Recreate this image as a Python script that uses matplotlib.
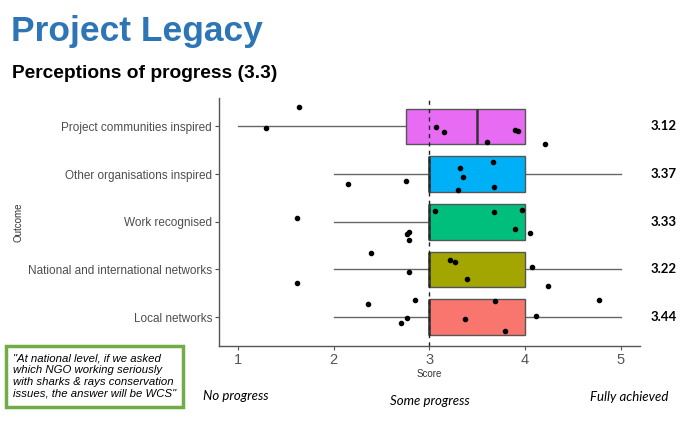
import matplotlib.pyplot as plt
import matplotlib.patches as mpatches

plt.rcParams['font.family'] = ['Liberation Sans', 'DejaVu Sans']

# outcomes, bottom to top
outcomes = ["Local networks", "National and international networks", "Work recognised",
            "Other organisations inspired", "Project communities inspired"]
colors = ["#F8766D", "#A3A500", "#00BF7D", "#00B0F6", "#E76BF3"]
means = ["3.44", "3.22", "3.33", "3.37", "3.12"]

# box stats: whisker low, q1, median, q3, whisker high
whislo = [2, 2, 2, 2, 1]
q1 = [3, 3, 3, 3, 2.75]
med = [3, 3, 3, 3, 3.5]
q3 = [4, 4, 4, 4, 4]
whishi = [5, 5, 4, 5, 4]

# jittered responses (score, vertical position)
pts_x = [2.36, 2.85, 3.69, 4.77, 4.11, 2.77, 3.37, 2.70, 3.79,
         2.39, 3.21, 3.27, 2.79, 4.07, 3.39, 1.62, 4.24,
         1.62, 3.06, 3.68, 3.97, 3.89, 4.05, 2.79, 2.77, 2.79,
         3.66, 3.32, 3.35, 2.15, 2.75, 3.68, 3.30,
         1.64, 1.29, 3.07, 3.15, 3.89, 3.93, 3.60, 4.21]
pts_y = [1.27, 1.35, 1.34, 1.35, 1.02, 0.99, 0.95, 0.87, 0.70,
         2.34, 2.19, 2.16, 1.95, 2.05, 1.79, 1.72, 1.66,
         3.08, 3.22, 3.20, 3.24, 2.84, 2.77, 2.79, 2.75, 2.61,
         4.25, 4.12, 3.93, 3.80, 3.85, 3.74, 3.67,
         5.41, 4.97, 4.99, 4.88, 4.92, 4.90, 4.67, 4.63]

quote = ('"At national level, if we asked\nwhich NGO working seriously\n'
         'with sharks & rays conservation\nissues, the answer will be WCS"')

fig = plt.figure(figsize=(6.8, 4.22), dpi=100)
ax = fig.add_axes([0.322, 0.181, 0.619, 0.587])

stats = []
for i in range(len(outcomes)):
    stats.append(dict(whislo=whislo[i], q1=q1[i], med=med[i], q3=q3[i], whishi=whishi[i]))
positions = list(range(1, len(outcomes) + 1))
bp = ax.bxp(stats, positions=positions, widths=0.75, orientation='horizontal',
            patch_artist=True, showcaps=False, showfliers=False,
            boxprops=dict(edgecolor="#555555", linewidth=1.0),
            whiskerprops=dict(color="#666666", linewidth=1.0),
            medianprops=dict(color="#333333", linewidth=1.8))
for patch, c in zip(bp['boxes'], colors):
    patch.set_facecolor(c)
for w in bp['whiskers']:
    w.set_zorder(1)

ax.axvline(3, color="#222222", linestyle=(0, (3, 3)), linewidth=1.0, zorder=3)
ax.scatter(pts_x, pts_y, s=9, color="black", zorder=4)

ax.set_xlim(0.8, 5.2)
ax.set_ylim(0.4, 5.6)
ax.set_xticks([1, 2, 3, 4, 5])
ax.set_yticks(positions)
ax.set_yticklabels(outcomes)
ax.tick_params(axis="y", colors="#4D4D4D", labelsize=8.5, length=3, width=0.8, pad=2)
ax.tick_params(axis="x", colors="#555555", labelsize=10.5, length=3, width=0.8, pad=2)
for s in ["top", "right"]:
    ax.spines[s].set_visible(False)
for s in ["left", "bottom"]:
    ax.spines[s].set_color("#555555")
    ax.spines[s].set_linewidth(1.0)
ax.set_xlabel("Score", fontsize=7, color="#333333", labelpad=2)
ax.set_ylabel("Outcome", fontsize=7, color="#333333", labelpad=3)

# mean labels at the right
for p, m in zip(positions, means):
    ax.text(1.025, (p - 0.4) / 5.2, m, transform=ax.transAxes, fontsize=9.5,
            fontweight="bold", family="Lato", ha="left", va="center")

fig.text(0.016, 0.925, "Project Legacy", fontsize=25.5, fontweight="bold",
         color="#2E75B6", va="center")
fig.text(0.018, 0.826, "Perceptions of progress (3.3)", fontsize=13.8,
         fontweight="bold", color="black", va="center")

fig.text(0.298, 0.062, "No progress", fontsize=9.5, style="italic", family="Lato", va="center")
fig.text(0.632, 0.050, "Some progress", fontsize=9.5, style="italic", family="Lato",
         va="center", ha="center")
fig.text(0.983, 0.060, "Fully achieved", fontsize=9.5, style="italic", family="Lato",
         va="center", ha="right")

box = mpatches.Rectangle((0.009, 0.036), 0.260, 0.145, transform=fig.transFigure,
                         facecolor="white", edgecolor="#70AD47", linewidth=2.5)
fig.patches.append(box)
fig.text(0.019, 0.109, quote, fontsize=8.2, style="italic",
         va="center", ha="left", linespacing=1.22)

fig.savefig("out.png", dpi=100)
